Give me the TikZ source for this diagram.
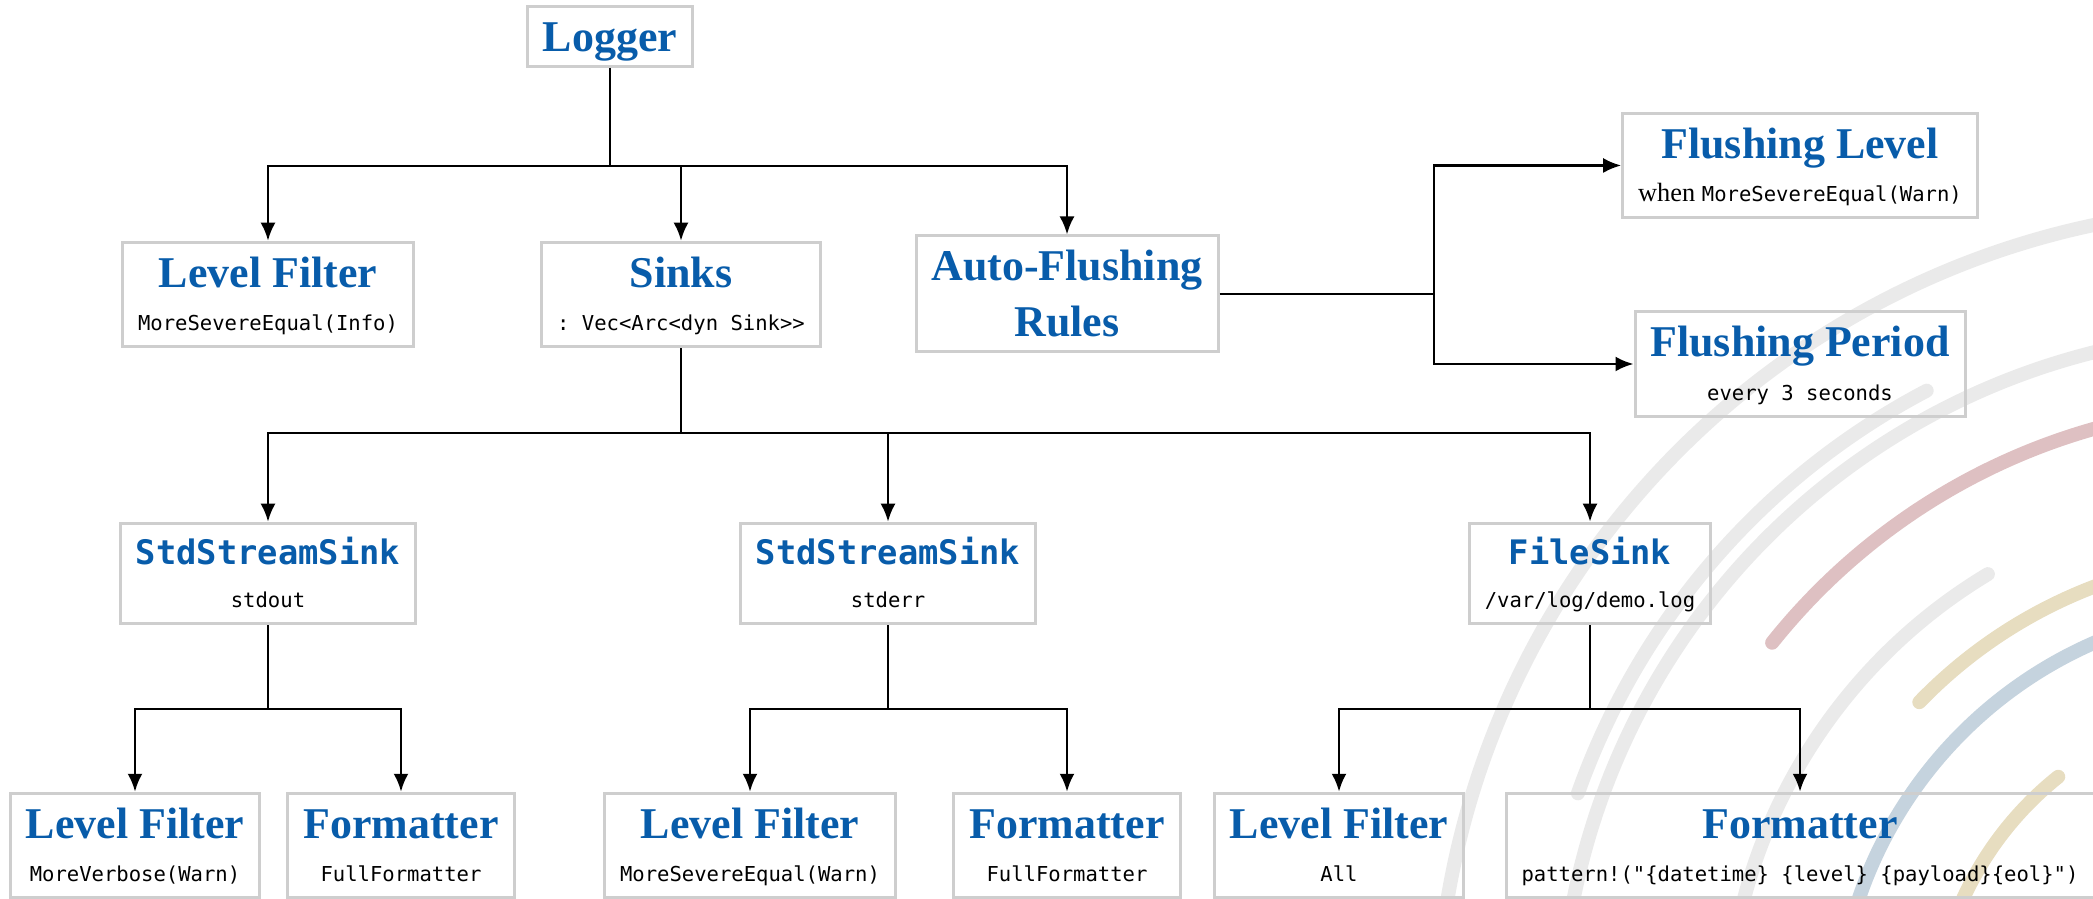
\documentclass[tikz,border=0pt]{standalone}
\usepackage{fontspec}
\setmainfont{Liberation Serif}
\setmonofont{DejaVu Sans Mono}
\usepackage{tikz}
\usetikzlibrary{
    arrows.meta,
    positioning
}

\definecolor{titleblue}{RGB}{8,92,170}
\definecolor{cardgray}{RGB}{206,206,206}
\definecolor{arcgray}{RGB}{234,234,234}
\definecolor{arcred}{RGB}{222,192,194}
\definecolor{arctan}{RGB}{231,221,192}
\definecolor{arcblue}{RGB}{197,211,222}

% box lines with fixed heights, so every card has the same baselines
\newcommand{\boxtitle}[1]{\raisebox{0pt}[0.30cm][0pt]{\fontsize{12.5}{14}\selectfont\bfseries\color{titleblue}#1}}
\newcommand{\boxmono}[1]{\raisebox{0pt}[0.26cm][0pt]{\fontsize{9.6}{11}\selectfont\ttfamily\bfseries\color{titleblue}#1}}
\newcommand{\boxnote}[1]{\raisebox{0pt}[0.435cm][0.01cm]{\fontsize{5.85}{7}\selectfont\ttfamily#1}}
\newcommand{\boxprose}[1]{{\rmfamily\fontsize{7.5}{9}\selectfont#1}}

\tikzset{
    card/.style={draw=cardgray, line width=0.85pt, inner xsep=0.155cm, inner ysep=0.15cm, align=center,
        execute at begin node={\baselineskip=0pt\lineskip=0pt\lineskiplimit=0pt}},
    bus/.style={line width=0.75pt},
    link/.style={bus, -{Latex[length=1.8mm, width=1.5mm]}},
    streak/.style={line width=0.14cm, line cap=round}
}

\begin{document}
\begin{tikzpicture}
                        \useasboundingbox (0, 0) rectangle (20.93, -8.99);

                        % background streaks
                        \begin{scope}
                            \clip (0, 0) rectangle (20.93, -8.99);
                            \foreach \rad/\from/\to/\col in {8.30/95/175/arcgray, 7.06/100/175/arcgray,
                                    7.30/117.7/160.5/arcgray, 5.40/121/175/arcgray, 6.32/100/141.4/arcred,
                                    4.82/100/136/arctan, 4.30/95/175/arcblue, 3.33/128.6/175/arctan}
                                \draw[streak, draw=\col] (22.66, -10.37) ++(\from:\rad)
                                    arc[start angle=\from, end angle=\to, radius=\rad];
                        \end{scope}

                        \node[card] (logger) at (6.10, -0.365) {\boxtitle{Logger}};

                        \node[card] (filter) at (2.68, -2.945) {\boxtitle{Level Filter}\\\boxnote{MoreSevereEqual(Info)}};
                        \node[card] (sinks) at (6.81, -2.945) {\boxtitle{Sinks}\\\boxnote{: Vec<Arc<dyn Sink>>}};
                        \node[card] (autoflush) at (10.67, -2.94) {\boxtitle{Auto-Flushing}\\[0.26cm]\boxtitle{Rules}};

                        \node[card] (flushlevel) at (18.00, -1.655) {\boxtitle{Flushing Level}\\\boxnote{\boxprose{when }MoreSevereEqual(Warn)}};
                        \node[card] (flushperiod) at (18.00, -3.64) {\boxtitle{Flushing Period}\\\boxnote{every 3 seconds}};

                        \node[card] (stdout) at (2.68, -5.735) {\boxmono{StdStreamSink}\\\boxnote{stdout}};
                        \node[card] (stderr) at (8.88, -5.735) {\boxmono{StdStreamSink}\\\boxnote{stderr}};
                        \node[card] (filesink) at (15.90, -5.735) {\boxmono{FileSink}\\\boxnote{/var/log/demo.log}};

                        \node[card] (outfilter) at (1.35, -8.455) {\boxtitle{Level Filter}\\\boxnote{MoreVerbose(Warn)}};
                        \node[card] (outfmt) at (4.01, -8.455) {\boxtitle{Formatter}\\\boxnote{FullFormatter}};
                        \node[card] (errfilter) at (7.50, -8.455) {\boxtitle{Level Filter}\\\boxnote{MoreSevereEqual(Warn)}};
                        \node[card] (errfmt) at (10.67, -8.455) {\boxtitle{Formatter}\\\boxnote{FullFormatter}};
                        \node[card] (filefilter) at (13.39, -8.455) {\boxtitle{Level Filter}\\\boxnote{All}};
                        \node[card] (filefmt) at (18.00, -8.455) {\boxtitle{Formatter}\\\boxnote{pattern!("\{datetime\} \{level\} \{payload\}\{eol\}")}};

                        % branch points
                        \coordinate (loggerbus) at (6.10, -1.66);
                        \coordinate (flushbus) at (14.34, -2.94);
                        \coordinate (sinkbus) at (6.81, -4.33);
                        \coordinate (outbus) at (2.68, -7.09);
                        \coordinate (errbus) at (8.88, -7.09);
                        \coordinate (filebus) at (15.90, -7.09);

                        \draw[bus] (logger) -- (loggerbus);
                        \draw[link] (loggerbus) -| (filter);
                        \draw[link] (loggerbus) -| (sinks);
                        \draw[link] (loggerbus) -| (autoflush);

                        \draw[bus] (autoflush) -- (flushbus);
                        \draw[link] (flushbus) |- (flushlevel);
                        \draw[link] (flushbus) |- (flushperiod);

                        \draw[bus] (sinks) -- (sinkbus);
                        \draw[link] (sinkbus) -| (stdout);
                        \draw[link] (sinkbus) -| (stderr);
                        \draw[link] (sinkbus) -| (filesink);

                        \draw[bus] (stdout) -- (outbus);
                        \draw[link] (outbus) -| (outfilter);
                        \draw[link] (outbus) -| (outfmt);

                        \draw[bus] (stderr) -- (errbus);
                        \draw[link] (errbus) -| (errfilter);
                        \draw[link] (errbus) -| (errfmt);

                        \draw[bus] (filesink) -- (filebus);
                        \draw[link] (filebus) -| (filefilter);
                        \draw[link] (filebus) -| (filefmt);
                    \end{tikzpicture}
\end{document}
